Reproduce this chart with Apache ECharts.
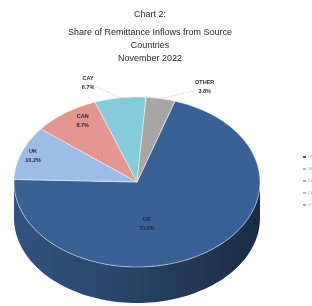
<!DOCTYPE html>
<html>
<head>
<meta charset="utf-8">
<script src="https://cdn.jsdelivr.net/npm/echarts@6/dist/echarts.min.js"></script>
<style>
html, body { margin: 0; padding: 0; background: #fff; }
#share-chart { width: 312px; height: 306px; }
</style>
</head>
<body>
<div id="share-chart"></div>
<script>
// Chart 2: remittance inflows by source country, Nov 2022
var countries = ['US', 'UK', 'CAN', 'CAY', 'OTHER'];
var shares = [70.2, 10.2, 8.7, 6.7, 3.8];
var titleLines = ['Chart 2:', 'Share of Remittance Inflows from Source', 'Countries', 'November 2022'];

var colors = ['#3a6195', '#9dbde6', '#e3968f', '#86cbd9', '#a6a6a6'];
// label placement: [angle shift from mid, radius factor, outside?]
var labelPlace = [[26, 0.5, 0], [0, 0.9, 0], [4, 0.84, 0], [-11, 1.23, 1], [15, 1.25, 1]];

var cx = 137, cy = 182, rx = 123, ry = 85, depth = 36, startAt = 18;
var total = shares.reduce(function (a, b) { return a + b; }, 0);

function angles(i) {
    var before = 0;
    for (var k = 0; k < i; k++) before += shares[k];
    var a0 = startAt + before / total * 360;
    return [a0, a0 + shares[i] / total * 360];
}
function pt(a, r, dy) {
    var t = a * Math.PI / 180;
    return [cx + rx * r * Math.sin(t), cy - ry * r * Math.cos(t) + (dy || 0)];
}
function arc(a0, a1, dy) {
    var n = Math.max(2, Math.ceil((a1 - a0) / 2)), pts = [];
    for (var i = 0; i <= n; i++) pts.push(pt(a0 + (a1 - a0) * i / n, 1, dy));
    return pts;
}
function shade(hex, f) {
    var n = parseInt(hex.slice(1), 16);
    var r = Math.round(((n >> 16) & 255) * f), g = Math.round(((n >> 8) & 255) * f), b = Math.round((n & 255) * f);
    return 'rgb(' + r + ',' + g + ',' + b + ')';
}

var sideSeries = {
    type: 'custom',
    coordinateSystem: 'none',
    silent: true,
    z: 1,
    data: shares,
    renderItem: function (params) {
        var i = params.dataIndex, a = angles(i), kids = [];
        [[90, 270], [450, 630]].forEach(function (w) {
            var s = Math.max(a[0], w[0]), e = Math.min(a[1], w[1]);
            if (e <= s) return;
            var pts = arc(s, e, 0).concat(arc(s, e, depth).reverse());
            kids.push({
                type: 'polygon',
                shape: { points: pts },
                style: {
                    fill: {
                        type: 'linear', x: cx - rx, y: 0, x2: cx + rx, y2: 0, global: true,
                        colorStops: [
                            { offset: 0, color: shade(colors[i], 0.85) },
                            { offset: 0.4, color: shade(colors[i], 0.72) },
                            { offset: 1, color: shade(colors[i], 0.45) }
                        ]
                    }
                }
            });
        });
        return { type: 'group', children: kids };
    }
};

var topSeries = {
    type: 'custom',
    coordinateSystem: 'none',
    silent: true,
    z: 2,
    data: shares,
    renderItem: function (params) {
        var i = params.dataIndex, a = angles(i);
        var kids = [{
            type: 'polygon',
            shape: { points: [[cx, cy]].concat(arc(a[0], a[1], 0)) },
            style: { fill: colors[i], stroke: 'rgba(255,255,255,0.8)', lineWidth: 0.6 }
        }];
        var lp = labelPlace[i], mid = (a[0] + a[1]) / 2;
        var p = pt(mid + lp[0], lp[1]);
        if (lp[2]) {
            var edge = pt(mid, 1);
            var from = [p[0] + (edge[0] > p[0] ? 9 : -9), p[1] + 4];
            kids.push({
                type: 'line',
                shape: { x1: from[0], y1: from[1], x2: edge[0], y2: edge[1] },
                style: { stroke: '#c8c8c8', lineWidth: 0.7, lineDash: [2, 1] }
            });
        }
        kids.push({
            type: 'text',
            z2: 10,
            style: {
                x: p[0], y: p[1],
                text: countries[i] + '\n' + shares[i].toFixed(1) + '%',
                align: 'center', verticalAlign: 'middle',
                font: 'bold 5.5px "Liberation Sans Narrow", "Liberation Sans", sans-serif',
                lineHeight: 9,
                fill: '#1e2430'
            }
        });
        return { type: 'group', children: kids };
    }
};

// invisible pie just to feed the legend
var legendPie = {
    type: 'pie',
    radius: [0, 1],
    center: [-50, -50],
    silent: true,
    label: { show: false },
    data: countries.map(function (c, i) { return { name: c, value: shares[i], itemStyle: { color: colors[i] } }; })
};

var titleText = titleLines.map(function (t, i) {
    return {
        type: 'text',
        style: {
            x: 150, y: [15, 33, 46, 59][i],
            text: t,
            align: 'center', verticalAlign: 'middle',
            font: '9px "Liberation Sans Narrow", "Liberation Sans", sans-serif',
            fill: '#2a2a2a'
        }
    };
});

var share_chart = echarts.init(document.getElementById('share-chart'));
share_chartOption = {
    animation: false,
    color: colors,
    legend: {
        orient: 'vertical',
        left: 298,
        top: 150,
        itemWidth: 3,
        itemHeight: 2,
        itemGap: 8,
        icon: 'rect',
        textStyle: { fontSize: 4, color: '#999', padding: [0, 0, 0, -3] },
        data: countries
    },
    graphic: titleText,
    series: [sideSeries, topSeries, legendPie]
};
share_chart.setOption(share_chartOption);
</script>
</body>
</html>
